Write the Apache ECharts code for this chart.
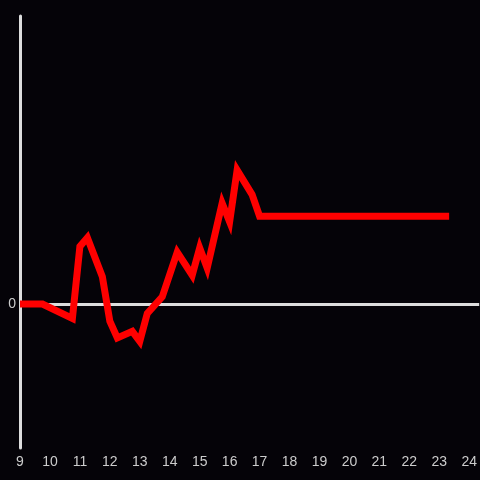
<!DOCTYPE html>
<html>
<head>
<meta charset="utf-8">
<script src="https://cdn.jsdelivr.net/npm/echarts@6/dist/echarts.min.js"></script>
<style>
  html, body { margin: 0; padding: 0; background: #050308; }
  #chart { width: 480px; height: 480px; }
</style>
</head>
<body>
<div id="chart"></div>
<script>
// hours of the day and the value at each
var hours = [9, 9.75, 10.75, 11, 11.25, 11.75, 12, 12.25, 12.75, 13, 13.25, 13.75,
  14.25, 14.75, 15, 15.25, 15.75, 16, 16.25, 16.75, 17, 23.33];
var values = [0, 0, -0.1, 0.4, 0.46, 0.19, -0.12, -0.235, -0.19, -0.26, -0.065, 0.05,
  0.36, 0.2, 0.39, 0.25, 0.7, 0.57, 0.93, 0.76, 0.61, 0.61];

var points = hours.map(function (h, i) { return [h, values[i]]; });

var myChart = echarts.init(document.getElementById('chart'));
const option = {
  backgroundColor: '#050308',
  animation: false,
  grid: {
    left: 20,
    right: 0,
    top: 16,
    bottom: 32
  },
  xAxis: {
    type: 'value',
    min: 9,
    max: 24.333,
    interval: 1,
    axisLine: { show: false, onZero: false },
    axisTick: { show: false },
    splitLine: { show: false },
    axisLabel: {
      color: '#cccccc',
      fontSize: 14,
      margin: 7,
      showMaxLabel: false,
      formatter: function (v) { return v <= 24 ? v : ''; }
    }
  },
  yAxis: {
    type: 'value',
    min: -1,
    max: 2,
    interval: 1,
    axisLine: { show: true, lineStyle: { color: '#dddddd', width: 3 } },
    axisTick: { show: false },
    splitLine: { show: false },
    axisLabel: {
      color: '#cccccc',
      fontSize: 14,
      margin: 4,
      formatter: function (v) { return v === 0 ? '0' : ''; }
    }
  },
  series: [{
    // zero line, drawn under the data line
    type: 'line',
    data: [],
    z: 1,
    markLine: {
      silent: true,
      symbol: 'none',
      label: { show: false },
      lineStyle: { color: '#dddddd', width: 3, type: 'solid' },
      data: [{ yAxis: 0 }]
    }
  }, {
    type: 'line',
    data: points,
    symbol: 'none',
    lineStyle: { color: '#ff0000', width: 7, join: 'miter' },
    z: 5
  }]
};
myChart.setOption(option);
window.addEventListener('resize', () => {
  myChart.resize();
});
</script>
</body>
</html>
